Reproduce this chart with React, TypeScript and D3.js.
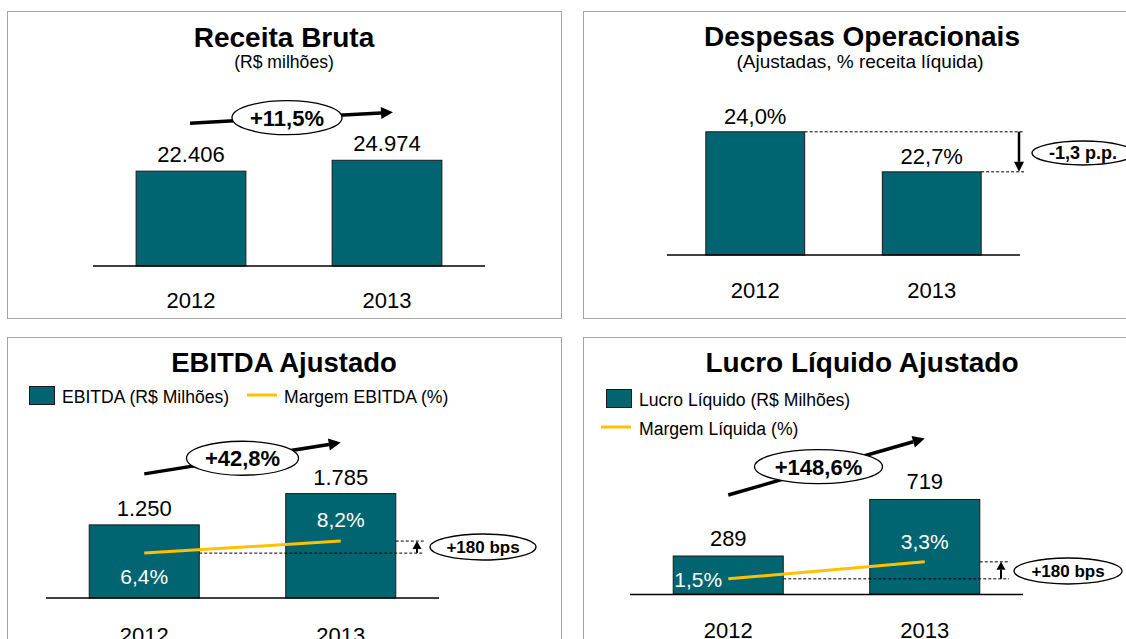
import React from "react";
import * as d3 from "d3";

const years = ["2012", "2013"];
const receita = [22406, 24974];
const despesas = [24.0, 22.7];
const ebitda = [1250, 1785];
const ebitdaMargem = [6.4, 8.2];
const lucro = [289, 719];
const lucroMargem = [1.5, 3.3];
const growthLabels = ["+11,5%", "-1,3 p.p.", "+42,8%", "+148,6%"];
const bpsLabel = "+180 bps";

const ptBR = d3.formatLocale({ decimal: ",", thousands: ".", grouping: [3], currency: ["R$", ""] });
const fmtInt = ptBR.format(",.0f");
const fmtPct = (v: number) => ptBR.format(".1f")(v) + "%";

const FONT = "'Liberation Sans', Arial, Helvetica, sans-serif";
const TEAL = "#006570";
const GOLD = "#FFC000";
const BORDER = "#A6A6A6";

function Arrow({ x1, y1, x2, y2, w = 3.5, head = 12, hw = 6 }: any) {
  const ang = Math.atan2(y2 - y1, x2 - x1);
  const bx = x2 - head * Math.cos(ang);
  const by = y2 - head * Math.sin(ang);
  const px = -Math.sin(ang) * hw;
  const py = Math.cos(ang) * hw;
  return (
    <g>
      <line x1={x1} y1={y1} x2={bx} y2={by} stroke="#000" strokeWidth={w} />
      <path d={`M${x2},${y2}L${bx + px},${by + py}L${bx - px},${by - py}Z`} fill="#000" />
    </g>
  );
}

function Bubble({ cx, cy, rx, ry, text, size }: any) {
  return (
    <g>
      <ellipse cx={cx} cy={cy} rx={rx} ry={ry} fill="#fff" stroke="#000" strokeWidth={1.3} />
      <text x={cx} y={cy + size * 0.36} textAnchor="middle" fontWeight="bold" fontSize={size} fontFamily={FONT}>
        {text}
      </text>
    </g>
  );
}

function T({ x, y, size, children, bold, anchor = "middle", fill = "#000" }: any) {
  return (
    <text x={x} y={y} fontSize={size} fontWeight={bold ? "bold" : "normal"} textAnchor={anchor} fill={fill} fontFamily={FONT}>
      {children}
    </text>
  );
}

export default function App() {
  // Panel 1: Receita Bruta
  const x1 = d3.scaleBand().domain(years).range([93, 485]).paddingInner(0.44).paddingOuter(0.22);
  const y1 = d3.scaleLinear().domain([0, 30000]).range([266, 139]);
  // Panel 2: Despesas
  const x2 = d3.scaleBand().domain(years).range([667, 1020]).paddingInner(0.44).paddingOuter(0.22);
  const y2 = d3.scaleLinear().domain([20, 25]).range([255, 101]);
  // Panel 3: EBITDA
  const x3 = d3.scaleBand().domain(years).range([46, 439]).paddingInner(0.44).paddingOuter(0.22);
  const y3 = d3.scaleLinear().domain([0, 2000]).range([598, 481]);
  const m3 = d3.scaleLinear().domain([0, 10]).range([596, 529]);
  // Panel 4: Lucro
  const x4 = d3.scaleBand().domain(years).range([630, 1023]).paddingInner(0.44).paddingOuter(0.22);
  const y4 = d3.scaleLinear().domain([0, 1000]).range([594, 462.5]);
  const m4 = d3.scaleLinear().domain([0, 5]).range([593, 545.8]);

  const c = (x: any, k: string) => (x(k) as number) + x.bandwidth() / 2;

  const bars = (x: any, y: any, vals: number[], base: number) =>
    years.map((k, i) => (
      <rect key={k} x={x(k)} y={y(vals[i])} width={x.bandwidth()} height={base - y(vals[i])} fill={TEAL} stroke="#1a1a1a" strokeWidth={1} />
    ));

  const line3 = d3.line<number>().x((_, i) => c(x3, years[i])).y((d) => m3(d));
  const line4 = d3.line<number>().x((_, i) => c(x4, years[i])).y((d) => m4(d));

  return (
    <svg width={1126} height={639} style={{ position: "absolute", left: 0, top: 0, background: "#fff" }}>
      {/* panel borders */}
      <rect x={7.5} y={11.5} width={554} height={307} fill="none" stroke={BORDER} />
      <rect x={583.5} y={11.5} width={560} height={307} fill="none" stroke={BORDER} />
      <rect x={7.5} y={337.5} width={554} height={320} fill="none" stroke={BORDER} />
      <rect x={583.5} y={337.5} width={560} height={320} fill="none" stroke={BORDER} />

      {/* ---------- Panel 1 ---------- */}
      <T x={284} y={47} size={28} bold>Receita Bruta</T>
      <T x={284} y={68} size={17.6}>(R$ milhões)</T>
      {bars(x1, y1, receita, 266)}
      <line x1={93} x2={485} y1={266} y2={266} stroke="#000" strokeWidth={1.5} />
      {years.map((k, i) => (
        <T key={k} x={c(x1, k)} y={y1(receita[i]) - 9} size={22}>{fmtInt(receita[i])}</T>
      ))}
      {years.map((k) => (
        <T key={k} x={c(x1, k)} y={308} size={22}>{k}</T>
      ))}
      <Arrow x1={c(x1, "2012") - 1} y1={y1(receita[0]) - 48} x2={c(x1, "2013") + 6} y2={y1(receita[1]) - 48} />
      <Bubble cx={(c(x1, "2012") + c(x1, "2013")) / 2 - 2} cy={(y1(receita[0]) + y1(receita[1])) / 2 - 48} rx={55} ry={17} text={growthLabels[0]} size={22} />

      {/* ---------- Panel 2 ---------- */}
      <T x={862} y={46} size={28} bold>Despesas Operacionais</T>
      <T x={860} y={68} size={19}>(Ajustadas, % receita líquida)</T>
      {bars(x2, y2, despesas, 255)}
      <line x1={667} x2={1020} y1={255} y2={255} stroke="#000" strokeWidth={1.5} />
      {years.map((k, i) => (
        <T key={k} x={c(x2, k)} y={y2(despesas[i]) - 8} size={22}>{fmtPct(despesas[i])}</T>
      ))}
      {years.map((k) => (
        <T key={k} x={c(x2, k)} y={298} size={22}>{k}</T>
      ))}
      <line x1={(x2("2012") as number) + x2.bandwidth()} x2={1024} y1={y2(despesas[0])} y2={y2(despesas[0])} stroke="#000" strokeDasharray="3,2" />
      <line x1={(x2("2013") as number) + x2.bandwidth()} x2={1024} y1={y2(despesas[1])} y2={y2(despesas[1])} stroke="#000" strokeDasharray="3,2" />
      <Arrow x1={1019} y1={y2(despesas[0])} x2={1019} y2={y2(despesas[1])} w={2.5} head={10} hw={5} />
      <Bubble cx={1083} cy={153} rx={51} ry={12} text={growthLabels[1]} size={18} />

      {/* ---------- Panel 3 ---------- */}
      <T x={284} y={372} size={27.5} bold>EBITDA Ajustado</T>
      <rect x={29.5} y={386.5} width={25} height={18} fill={TEAL} stroke="#1a1a1a" />
      <T x={62} y={403} size={17.6} anchor="start">EBITDA (R$ Milhões)</T>
      <line x1={247} x2={277} y1={395} y2={395} stroke={GOLD} strokeWidth={3} />
      <T x={284} y={403} size={17.6} anchor="start">Margem EBITDA (%)</T>
      {bars(x3, y3, ebitda, 598)}
      <line x1={46} x2={439} y1={598} y2={598} stroke="#000" strokeWidth={1.5} />
      {years.map((k, i) => (
        <T key={k} x={c(x3, k)} y={y3(ebitda[i]) - 9} size={22}>{fmtInt(ebitda[i])}</T>
      ))}
      <path d={line3(ebitdaMargem) as string} stroke={GOLD} strokeWidth={3} fill="none" />
      <T x={c(x3, "2012")} y={584} size={21} fill="#fff">{fmtPct(ebitdaMargem[0])}</T>
      <T x={c(x3, "2013")} y={527} size={21} fill="#fff">{fmtPct(ebitdaMargem[1])}</T>
      <line x1={(x3("2012") as number) + x3.bandwidth()} x2={424} y1={m3(ebitdaMargem[0])} y2={m3(ebitdaMargem[0])} stroke="#000" strokeDasharray="3,2" />
      <line x1={(x3("2013") as number) + x3.bandwidth()} x2={424} y1={m3(ebitdaMargem[1])} y2={m3(ebitdaMargem[1])} stroke="#000" strokeDasharray="3,2" />
      <Arrow x1={417} y1={m3(ebitdaMargem[0])} x2={417} y2={m3(ebitdaMargem[1])} w={2} head={8} hw={4.5} />
      <Bubble cx={483} cy={547} rx={53} ry={13} text={bpsLabel} size={17} />
      <Arrow x1={c(x3, "2012")} y1={y3(ebitda[0]) - 51} x2={c(x3, "2013")} y2={y3(ebitda[1]) - 51} />
      <Bubble cx={(c(x3, "2012") + c(x3, "2013")) / 2} cy={(y3(ebitda[0]) + y3(ebitda[1])) / 2 - 51} rx={56} ry={17} text={growthLabels[2]} size={22} />
      {years.map((k) => (
        <T key={k} x={c(x3, k)} y={643} size={22}>{k}</T>
      ))}

      {/* ---------- Panel 4 ---------- */}
      <T x={862} y={372} size={28} bold>Lucro Líquido Ajustado</T>
      <rect x={606.5} y={389.5} width={25} height={18} fill={TEAL} stroke="#1a1a1a" />
      <T x={639} y={406} size={17.6} anchor="start">Lucro Líquido (R$ Milhões)</T>
      <line x1={601} x2={631} y1={427} y2={427} stroke={GOLD} strokeWidth={3} />
      <T x={639} y={435} size={17.6} anchor="start">Margem Líquida (%)</T>
      {bars(x4, y4, lucro, 594)}
      <line x1={630} x2={1023} y1={594.5} y2={594.5} stroke="#000" strokeWidth={1.5} />
      {years.map((k, i) => (
        <T key={k} x={c(x4, k)} y={y4(lucro[i]) - 10} size={22}>{fmtInt(lucro[i])}</T>
      ))}
      <path d={line4(lucroMargem) as string} stroke={GOLD} strokeWidth={3} fill="none" />
      <T x={(x4("2012") as number) + 1} y={587} size={21} fill="#fff" anchor="start">{fmtPct(lucroMargem[0])}</T>
      <T x={c(x4, "2013")} y={549} size={21} fill="#fff">{fmtPct(lucroMargem[1])}</T>
      <line x1={(x4("2012") as number) + x4.bandwidth()} x2={1009} y1={m4(lucroMargem[0])} y2={m4(lucroMargem[0])} stroke="#000" strokeDasharray="3,2" />
      <line x1={(x4("2013") as number) + x4.bandwidth()} x2={1009} y1={m4(lucroMargem[1])} y2={m4(lucroMargem[1])} stroke="#000" strokeDasharray="3,2" />
      <Arrow x1={1001} y1={m4(lucroMargem[0])} x2={1001} y2={m4(lucroMargem[1])} w={2} head={8} hw={4.5} />
      <Bubble cx={1068} cy={571} rx={54} ry={13} text={bpsLabel} size={17} />
      <Arrow x1={c(x4, "2012")} y1={y4(lucro[0]) - 61} x2={c(x4, "2013")} y2={y4(lucro[1]) - 61} />
      <Bubble cx={(c(x4, "2012") + c(x4, "2013")) / 2 - 8} cy={(y4(lucro[0]) + y4(lucro[1])) / 2 - 61} rx={64} ry={17} text={growthLabels[3]} size={22} />
      {years.map((k) => (
        <T key={k} x={c(x4, k)} y={638} size={22}>{k}</T>
      ))}
    </svg>
  );
}
